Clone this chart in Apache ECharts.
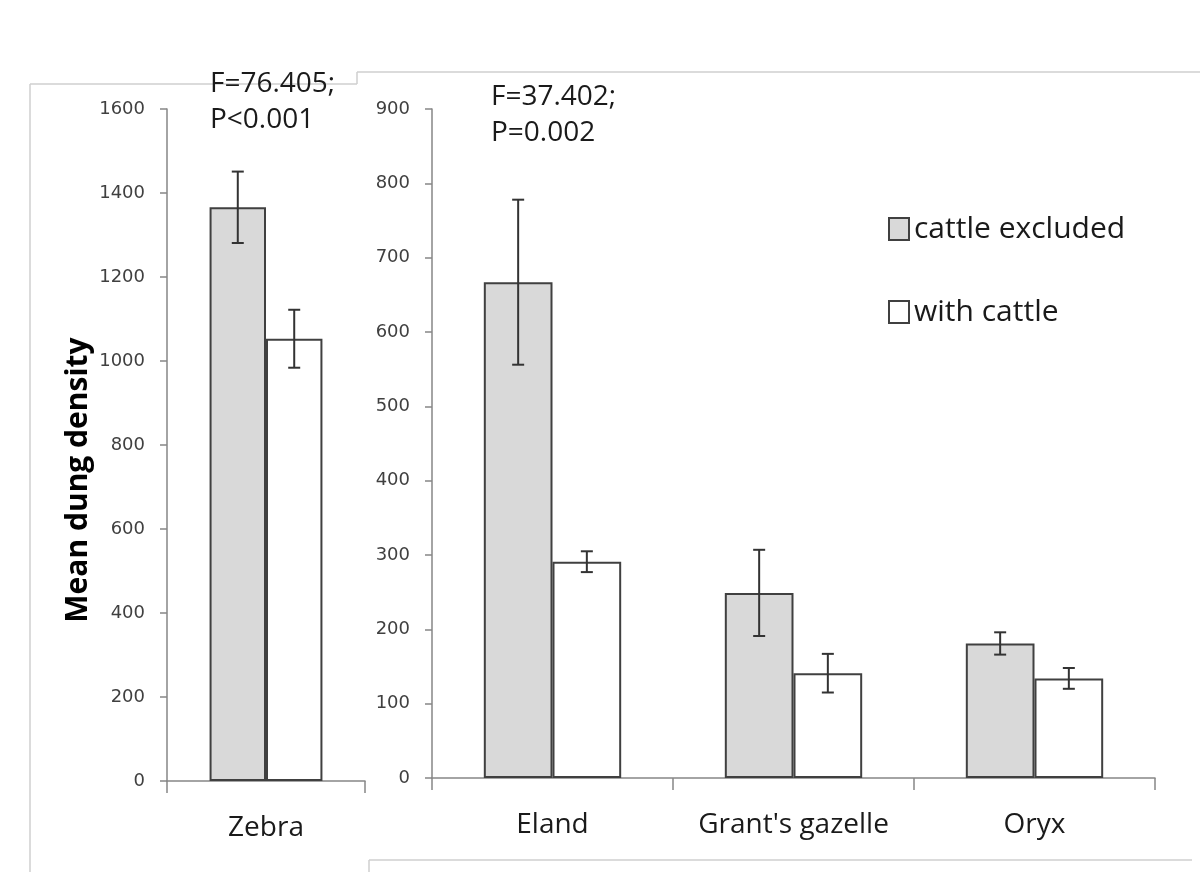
<!DOCTYPE html>
<html>
<head>
    <meta charset="utf-8">
    <title>Mean dung density</title>
    <script src="https://cdn.jsdelivr.net/npm/echarts@6/dist/echarts.min.js"></script>
</head>
<body style="margin:0;background:#fff">
<div id="main" style="width: 1200px;height:892px;"></div>
<script type="text/javascript">
  // data
  var zebraCats = ['Zebra'];
  var zebraExcluded = [1366];
  var zebraExcludedErr = [85];
  var zebraWith = [1053];
  var zebraWithErr = [69];

  var otherCats = ['Eland', "Grant's gazelle", 'Oryx'];
  var otherExcluded = [667, 249, 181];
  var otherExcludedErr = [111, 58, 15];
  var otherWith = [291, 141, 134];
  var otherWithErr = [14, 26, 14];

  var leftTicks = [0, 200, 400, 600, 800, 1000, 1200, 1400, 1600];
  var rightTicks = [0, 100, 200, 300, 400, 500, 600, 700, 800, 900];

  var GRAY = '#d9d9d9';
  var EDGE = '#404040';
  var GAP = 0.43;
  var font = 'Open Sans';

  function errData(vals, errs) {
    return vals.map(function (v, i) { return [i, v - errs[i], v + errs[i]]; });
  }

  // error bar drawn through the axes; side -1 = first bar, +1 = second bar
  function errRender(side) {
    return function (params, api) {
      var lo = api.coord([api.value(0), api.value(1)]);
      var hi = api.coord([api.value(0), api.value(2)]);
      var bw = api.size([1, 0])[0];
      var barW = bw * (1 - GAP) / 2;
      var x = lo[0] + side * barW / 2;
      var cap = 6;
      var st = { stroke: '#333', lineWidth: 2 };
      return {
        type: 'group',
        children: [
          { type: 'line', shape: { x1: x, y1: lo[1], x2: x, y2: hi[1] }, style: st },
          { type: 'line', shape: { x1: x - cap, y1: lo[1], x2: x + cap, y2: lo[1] }, style: st },
          { type: 'line', shape: { x1: x - cap, y1: hi[1], x2: x + cap, y2: hi[1] }, style: st }
        ]
      };
    };
  }

  function yAxis(idx, ticks) {
    return {
      type: 'value', gridIndex: idx,
      min: ticks[0], max: ticks[ticks.length - 1], interval: ticks[1] - ticks[0],
      splitLine: { show: false },
      axisLine: { show: true, lineStyle: { color: '#868686', width: 1.5 } },
      axisTick: { show: true, length: 7, lineStyle: { color: '#868686', width: 1.5 } },
      axisLabel: {
        color: '#404040', fontFamily: 'DejaVu Sans', fontSize: 18, margin: 22,
        formatter: function (v) { return String(v); }
      }
    };
  }

  function xAxis(idx, cats, tickInterval) {
    return {
      type: 'category', gridIndex: idx, data: cats,
      axisLine: { lineStyle: { color: '#868686', width: 1.5 } },
      axisTick: { show: true, length: 12, interval: tickInterval, lineStyle: { color: '#868686', width: 1.5 } },
      axisLabel: { color: '#1a1a1a', fontFamily: font, fontSize: 28, margin: 33, interval: 0 }
    };
  }

  function bars(name, idx, vals, color) {
    return {
      name: name, type: 'bar', xAxisIndex: idx, yAxisIndex: idx, data: vals,
      barGap: '0%', barCategoryGap: (GAP * 100) + '%',
      itemStyle: { color: color, borderColor: EDGE, borderWidth: 2 },
      emphasis: { disabled: true }
    };
  }

  function errs(idx, vals, e, side) {
    return {
      type: 'custom', xAxisIndex: idx, yAxisIndex: idx, z: 5,
      data: errData(vals, e), renderItem: errRender(side),
      encode: { x: 0, y: [1, 2] }
    };
  }

  var frame = { stroke: '#cfcfcf', lineWidth: 1.5 };
  var note = { fill: '#1a1a1a', fontFamily: font, fontSize: 28, verticalAlign: 'middle' };

  var myChart = echarts.init(document.getElementById('main'));
  var option = {
    backgroundColor: '#fff',
    animation: false,
    grid: [
      { left: 167, top: 109, width: 198, height: 672 },
      { left: 432, top: 109, width: 723, height: 669 }
    ],
    xAxis: [
      xAxis(0, zebraCats, function (i) { return i === 0; }),
      xAxis(1, otherCats, 0)
    ],
    yAxis: [yAxis(0, leftTicks), yAxis(1, rightTicks)],
    legend: {
      data: ['cattle excluded', 'with cattle'],
      orient: 'vertical', left: 883, top: 209,
      itemWidth: 20, itemHeight: 22, itemGap: 53, icon: 'rect',
      textStyle: { fontFamily: font, fontSize: 30, color: '#1a1a1a', lineHeight: 26 }
    },
    graphic: [
      { type: 'line', shape: { x1: 30, y1: 84, x2: 357, y2: 84 }, style: frame },
      { type: 'line', shape: { x1: 357, y1: 84, x2: 357, y2: 72 }, style: frame },
      { type: 'line', shape: { x1: 357, y1: 72, x2: 1200, y2: 72 }, style: frame },
      { type: 'line', shape: { x1: 30, y1: 84, x2: 30, y2: 872 }, style: frame },
      { type: 'line', shape: { x1: 369, y1: 860, x2: 1192, y2: 860 }, style: frame },
      { type: 'line', shape: { x1: 369, y1: 860, x2: 369, y2: 872 }, style: frame },
      { type: 'text', x: 210, y: 84, style: Object.assign({ text: 'F=76.405;' }, note) },
      { type: 'text', x: 210, y: 120, style: Object.assign({ text: 'P<0.001' }, note) },
      { type: 'text', x: 491, y: 97, style: Object.assign({ text: 'F=37.402;' }, note) },
      { type: 'text', x: 491, y: 133, style: Object.assign({ text: 'P=0.002' }, note) },
      {
        type: 'text', x: 78, y: 480, rotation: Math.PI / 2,
        style: { text: 'Mean dung density', fill: '#000', fontFamily: font, fontSize: 30, fontWeight: 'bold', align: 'center', verticalAlign: 'middle' }
      }
    ],
    series: [
      bars('cattle excluded', 0, zebraExcluded, GRAY),
      bars('with cattle', 0, zebraWith, '#fff'),
      bars('cattle excluded', 1, otherExcluded, GRAY),
      bars('with cattle', 1, otherWith, '#fff'),
      errs(0, zebraExcluded, zebraExcludedErr, -1),
      errs(0, zebraWith, zebraWithErr, 1),
      errs(1, otherExcluded, otherExcludedErr, -1),
      errs(1, otherWith, otherWithErr, 1)
    ]
  };
  myChart.setOption(option);
</script>
</body>
</html>
